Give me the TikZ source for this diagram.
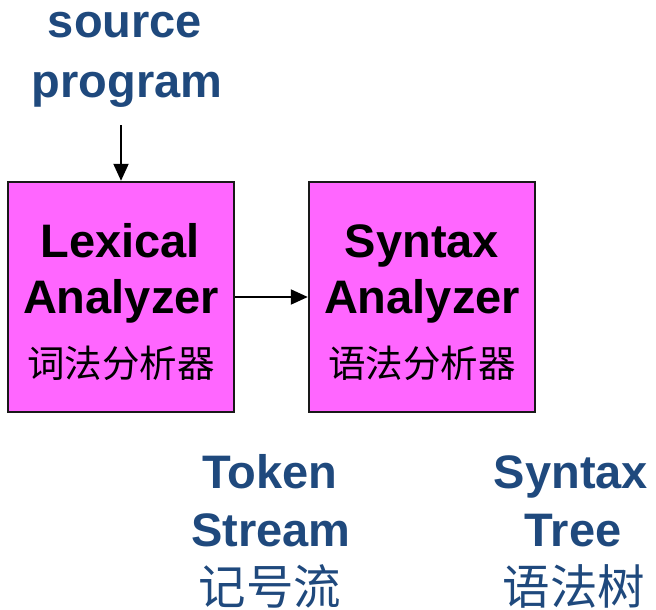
\documentclass[tikz,border=0pt]{standalone}
\usepackage{fontspec}
\setmainfont{Liberation Sans}
\newfontfamily\cjk{Noto Sans CJK SC}
\usetikzlibrary{arrows.meta}
\definecolor{labelblue}{RGB}{31,73,125}
\definecolor{stagefill}{RGB}{255,102,255}
\tikzset{
  stagebox/.style={draw=black!90, line width=2.4pt, fill=stagefill,
    minimum width=226pt, minimum height=230pt, inner sep=0pt},
  entext/.style={anchor=base, inner sep=0pt,
    font=\fontsize{47}{56}\selectfont\bfseries},
  zhbox/.style={anchor=base, inner sep=0pt,
    font=\fontsize{37.5}{45}\selectfont\cjk},
  zhlabel/.style={anchor=base, inner sep=0pt, text=labelblue,
    font=\fontsize{47.5}{56}\selectfont\cjk},
  flow/.style={line width=2pt, -{Triangle[length=17pt,width=15pt]}},
}
\begin{document}
\begin{tikzpicture}[x=1pt, y=-1pt]
\useasboundingbox (0,0) rectangle (656,610);

% input label
\node[entext, text=labelblue] (src1) at (125,38) {source};
\node[entext, text=labelblue] (src2) at (127,97) {program};
\coordinate (srcend) at (121,125);

% the two analysis stages
\node[stagebox] (lex) at (121,297) {};
\node[stagebox] (syn) at (422,297) {};

\node[entext] (lexA) at (120,257) {Lexical};
\node[entext] (lexB) at (121,313) {Analyzer};
\node[zhbox]  (lexC) at (121,377) {词法分析器};

\node[entext] (synA) at (422,257) {Syntax};
\node[entext] (synB) at (422,313) {Analyzer};
\node[zhbox]  (synC) at (422,377) {语法分析器};

% intermediate and final results
\node[entext, text=labelblue] (tokA) at (270,488) {Token};
\node[entext, text=labelblue] (tokB) at (271,546) {Stream};
\node[zhlabel] (tokC) at (270,604) {记号流};

\node[entext, text=labelblue] (treeA) at (571,488) {Syntax};
\node[entext, text=labelblue] (treeB) at (573,546) {Tree};
\node[zhlabel] (treeC) at (574,604) {语法树};

% connectors
\draw[flow] (srcend) -- (lex.north);
\draw[flow] (lex.east) -- (syn.west);
\end{tikzpicture}
\end{document}
